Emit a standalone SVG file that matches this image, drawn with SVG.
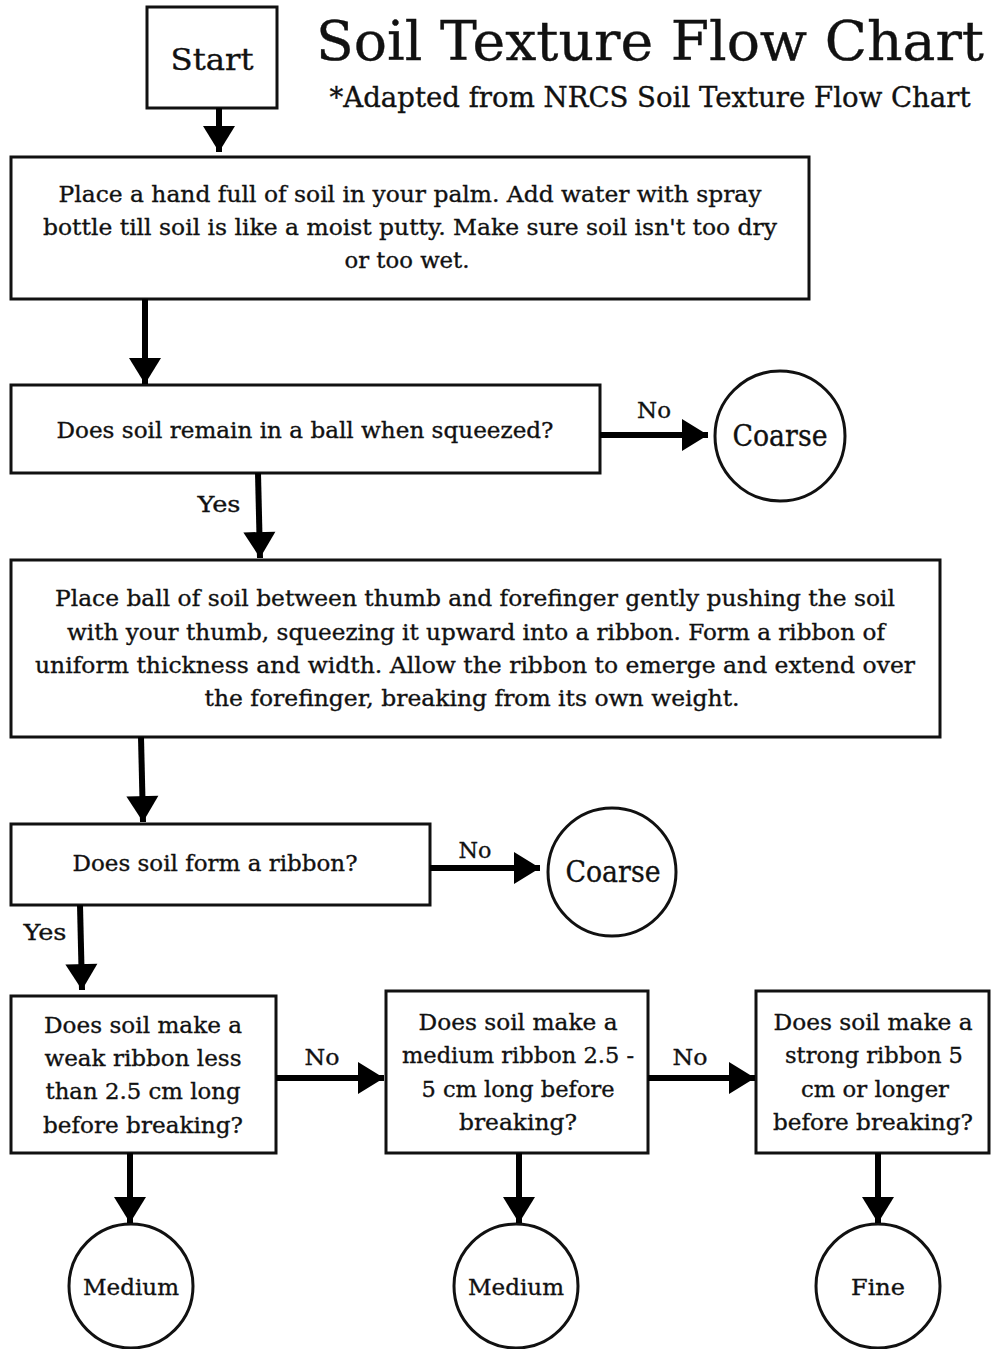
<svg xmlns="http://www.w3.org/2000/svg" width="991" height="1349" viewBox="0 0 991 1349">
<style>
.box{fill:#fff;stroke:#111;stroke-width:3}
.t{font-family:"DejaVu Serif","Liberation Serif",serif;fill:#111;stroke:#111;stroke-width:0.35;text-anchor:middle}
.b{font-size:23px}
.c{font-size:29px}
.l{font-size:23px}
.con line{stroke:#000;stroke-width:6}
</style>
<defs>
<marker id="ah" markerUnits="userSpaceOnUse" markerWidth="36" markerHeight="36" viewBox="0 0 36 36" refX="31" refY="18" orient="auto">
<path d="M5,2 L31,18 L5,34 Z" fill="#000"/>
</marker>
</defs>
<rect width="991" height="1349" fill="#fff"/>

<g id="title">
<text class="t" x="650" y="60" font-size="54" textLength="668" lengthAdjust="spacingAndGlyphs" stroke-width="0.8">Soil Texture Flow Chart</text>
<text class="t" x="650" y="107" font-size="27" textLength="641" lengthAdjust="spacingAndGlyphs">*Adapted from NRCS Soil Texture Flow Chart</text>
</g>

<g id="start">
<rect class="box" x="147" y="7" width="130" height="101"/>
<text class="t c" x="212" y="70" textLength="83" lengthAdjust="spacingAndGlyphs">Start</text>
</g>

<g id="step1">
<rect class="box" x="11" y="157" width="798" height="142"/>
<text class="t b" x="410" y="202" textLength="703" lengthAdjust="spacingAndGlyphs">Place a hand full of soil in your palm. Add water with spray</text>
<text class="t b" x="410" y="235" textLength="734" lengthAdjust="spacingAndGlyphs">bottle till soil is like a moist putty. Make sure soil isn't too dry</text>
<text class="t b" x="407" y="268" textLength="125" lengthAdjust="spacingAndGlyphs">or too wet.</text>
</g>

<g id="q1">
<rect class="box" x="11" y="385" width="589" height="88"/>
<text class="t b" x="305" y="438" textLength="497" lengthAdjust="spacingAndGlyphs">Does soil remain in a ball when squeezed?</text>
</g>

<g id="coarse1">
<circle class="box" cx="780" cy="436" r="65"/>
<text class="t c" x="780" y="446" textLength="95" lengthAdjust="spacingAndGlyphs">Coarse</text>
</g>

<g id="step2">
<rect class="box" x="11" y="560" width="929" height="177"/>
<text class="t b" x="475" y="606" textLength="840" lengthAdjust="spacingAndGlyphs">Place ball of soil between thumb and forefinger gently pushing the soil</text>
<text class="t b" x="476" y="640" textLength="818" lengthAdjust="spacingAndGlyphs">with your thumb, squeezing it upward into a ribbon. Form a ribbon of</text>
<text class="t b" x="475" y="673" textLength="880" lengthAdjust="spacingAndGlyphs">uniform thickness and width. Allow the ribbon to emerge and extend over</text>
<text class="t b" x="472" y="706" textLength="535" lengthAdjust="spacingAndGlyphs">the forefinger, breaking from its own weight.</text>
</g>

<g id="q2">
<rect class="box" x="11" y="824" width="419" height="81"/>
<text class="t b" x="215" y="871" textLength="285" lengthAdjust="spacingAndGlyphs">Does soil form a ribbon?</text>
</g>

<g id="coarse2">
<circle class="box" cx="612" cy="872" r="64"/>
<text class="t c" x="613" y="882" textLength="95" lengthAdjust="spacingAndGlyphs">Coarse</text>
</g>

<g id="q3">
<rect class="box" x="11" y="996" width="265" height="157"/>
<text class="t b" x="143" y="1033" textLength="198" lengthAdjust="spacingAndGlyphs">Does soil make a</text>
<text class="t b" x="143" y="1066" textLength="197" lengthAdjust="spacingAndGlyphs">weak ribbon less</text>
<text class="t b" x="143" y="1099" textLength="195" lengthAdjust="spacingAndGlyphs">than 2.5 cm long</text>
<text class="t b" x="143" y="1133" textLength="200" lengthAdjust="spacingAndGlyphs">before breaking?</text>
</g>

<g id="q4">
<rect class="box" x="386" y="991" width="262" height="162"/>
<text class="t b" x="518" y="1030" textLength="199" lengthAdjust="spacingAndGlyphs">Does soil make a</text>
<text class="t b" x="518" y="1063" textLength="232" lengthAdjust="spacingAndGlyphs">medium ribbon 2.5 -</text>
<text class="t b" x="518" y="1097" textLength="193" lengthAdjust="spacingAndGlyphs">5 cm long before</text>
<text class="t b" x="518" y="1130" textLength="118" lengthAdjust="spacingAndGlyphs">breaking?</text>
</g>

<g id="q5">
<rect class="box" x="756" y="991" width="233" height="162"/>
<text class="t b" x="873" y="1030" textLength="199" lengthAdjust="spacingAndGlyphs">Does soil make a</text>
<text class="t b" x="874" y="1063" textLength="178" lengthAdjust="spacingAndGlyphs">strong ribbon 5</text>
<text class="t b" x="875" y="1097" textLength="148" lengthAdjust="spacingAndGlyphs">cm or longer</text>
<text class="t b" x="873" y="1130" textLength="200" lengthAdjust="spacingAndGlyphs">before breaking?</text>
</g>

<g id="medium1">
<circle class="box" cx="131" cy="1286" r="62"/>
<text class="t b" x="131" y="1295" font-size="25" textLength="96" lengthAdjust="spacingAndGlyphs">Medium</text>
</g>

<g id="medium2">
<circle class="box" cx="516" cy="1286" r="62"/>
<text class="t b" x="516" y="1295" font-size="25" textLength="96" lengthAdjust="spacingAndGlyphs">Medium</text>
</g>

<g id="fine">
<circle class="box" cx="878" cy="1286" r="62"/>
<text class="t b" x="878" y="1295" font-size="25" textLength="54" lengthAdjust="spacingAndGlyphs">Fine</text>
</g>

<g id="connectors" class="con">
<line x1="219" y1="108" x2="219" y2="152" marker-end="url(#ah)"/>
<line x1="145" y1="299" x2="145" y2="384" marker-end="url(#ah)"/>
<line x1="600" y1="435" x2="708" y2="435" marker-end="url(#ah)"/>
<line x1="258" y1="473" x2="260" y2="558" marker-end="url(#ah)"/>
<line x1="141" y1="737" x2="143" y2="822" marker-end="url(#ah)"/>
<line x1="430" y1="868" x2="540" y2="868" marker-end="url(#ah)"/>
<line x1="80" y1="905" x2="82" y2="990" marker-end="url(#ah)"/>
<line x1="276" y1="1078" x2="384" y2="1078" marker-end="url(#ah)"/>
<line x1="648" y1="1078" x2="755" y2="1078" marker-end="url(#ah)"/>
<line x1="130" y1="1153" x2="130" y2="1223" marker-end="url(#ah)"/>
<line x1="519" y1="1153" x2="519" y2="1223" marker-end="url(#ah)"/>
<line x1="878" y1="1153" x2="878" y2="1223" marker-end="url(#ah)"/>
<text class="t l" x="654" y="418" textLength="34" lengthAdjust="spacingAndGlyphs">No</text>
<text class="t l" x="219" y="512" textLength="43" lengthAdjust="spacingAndGlyphs">Yes</text>
<text class="t l" x="475" y="858" textLength="33" lengthAdjust="spacingAndGlyphs">No</text>
<text class="t l" x="45" y="940" textLength="43" lengthAdjust="spacingAndGlyphs">Yes</text>
<text class="t l" x="322" y="1065" textLength="35" lengthAdjust="spacingAndGlyphs">No</text>
<text class="t l" x="690" y="1065" textLength="35" lengthAdjust="spacingAndGlyphs">No</text>
</g>
</svg>
